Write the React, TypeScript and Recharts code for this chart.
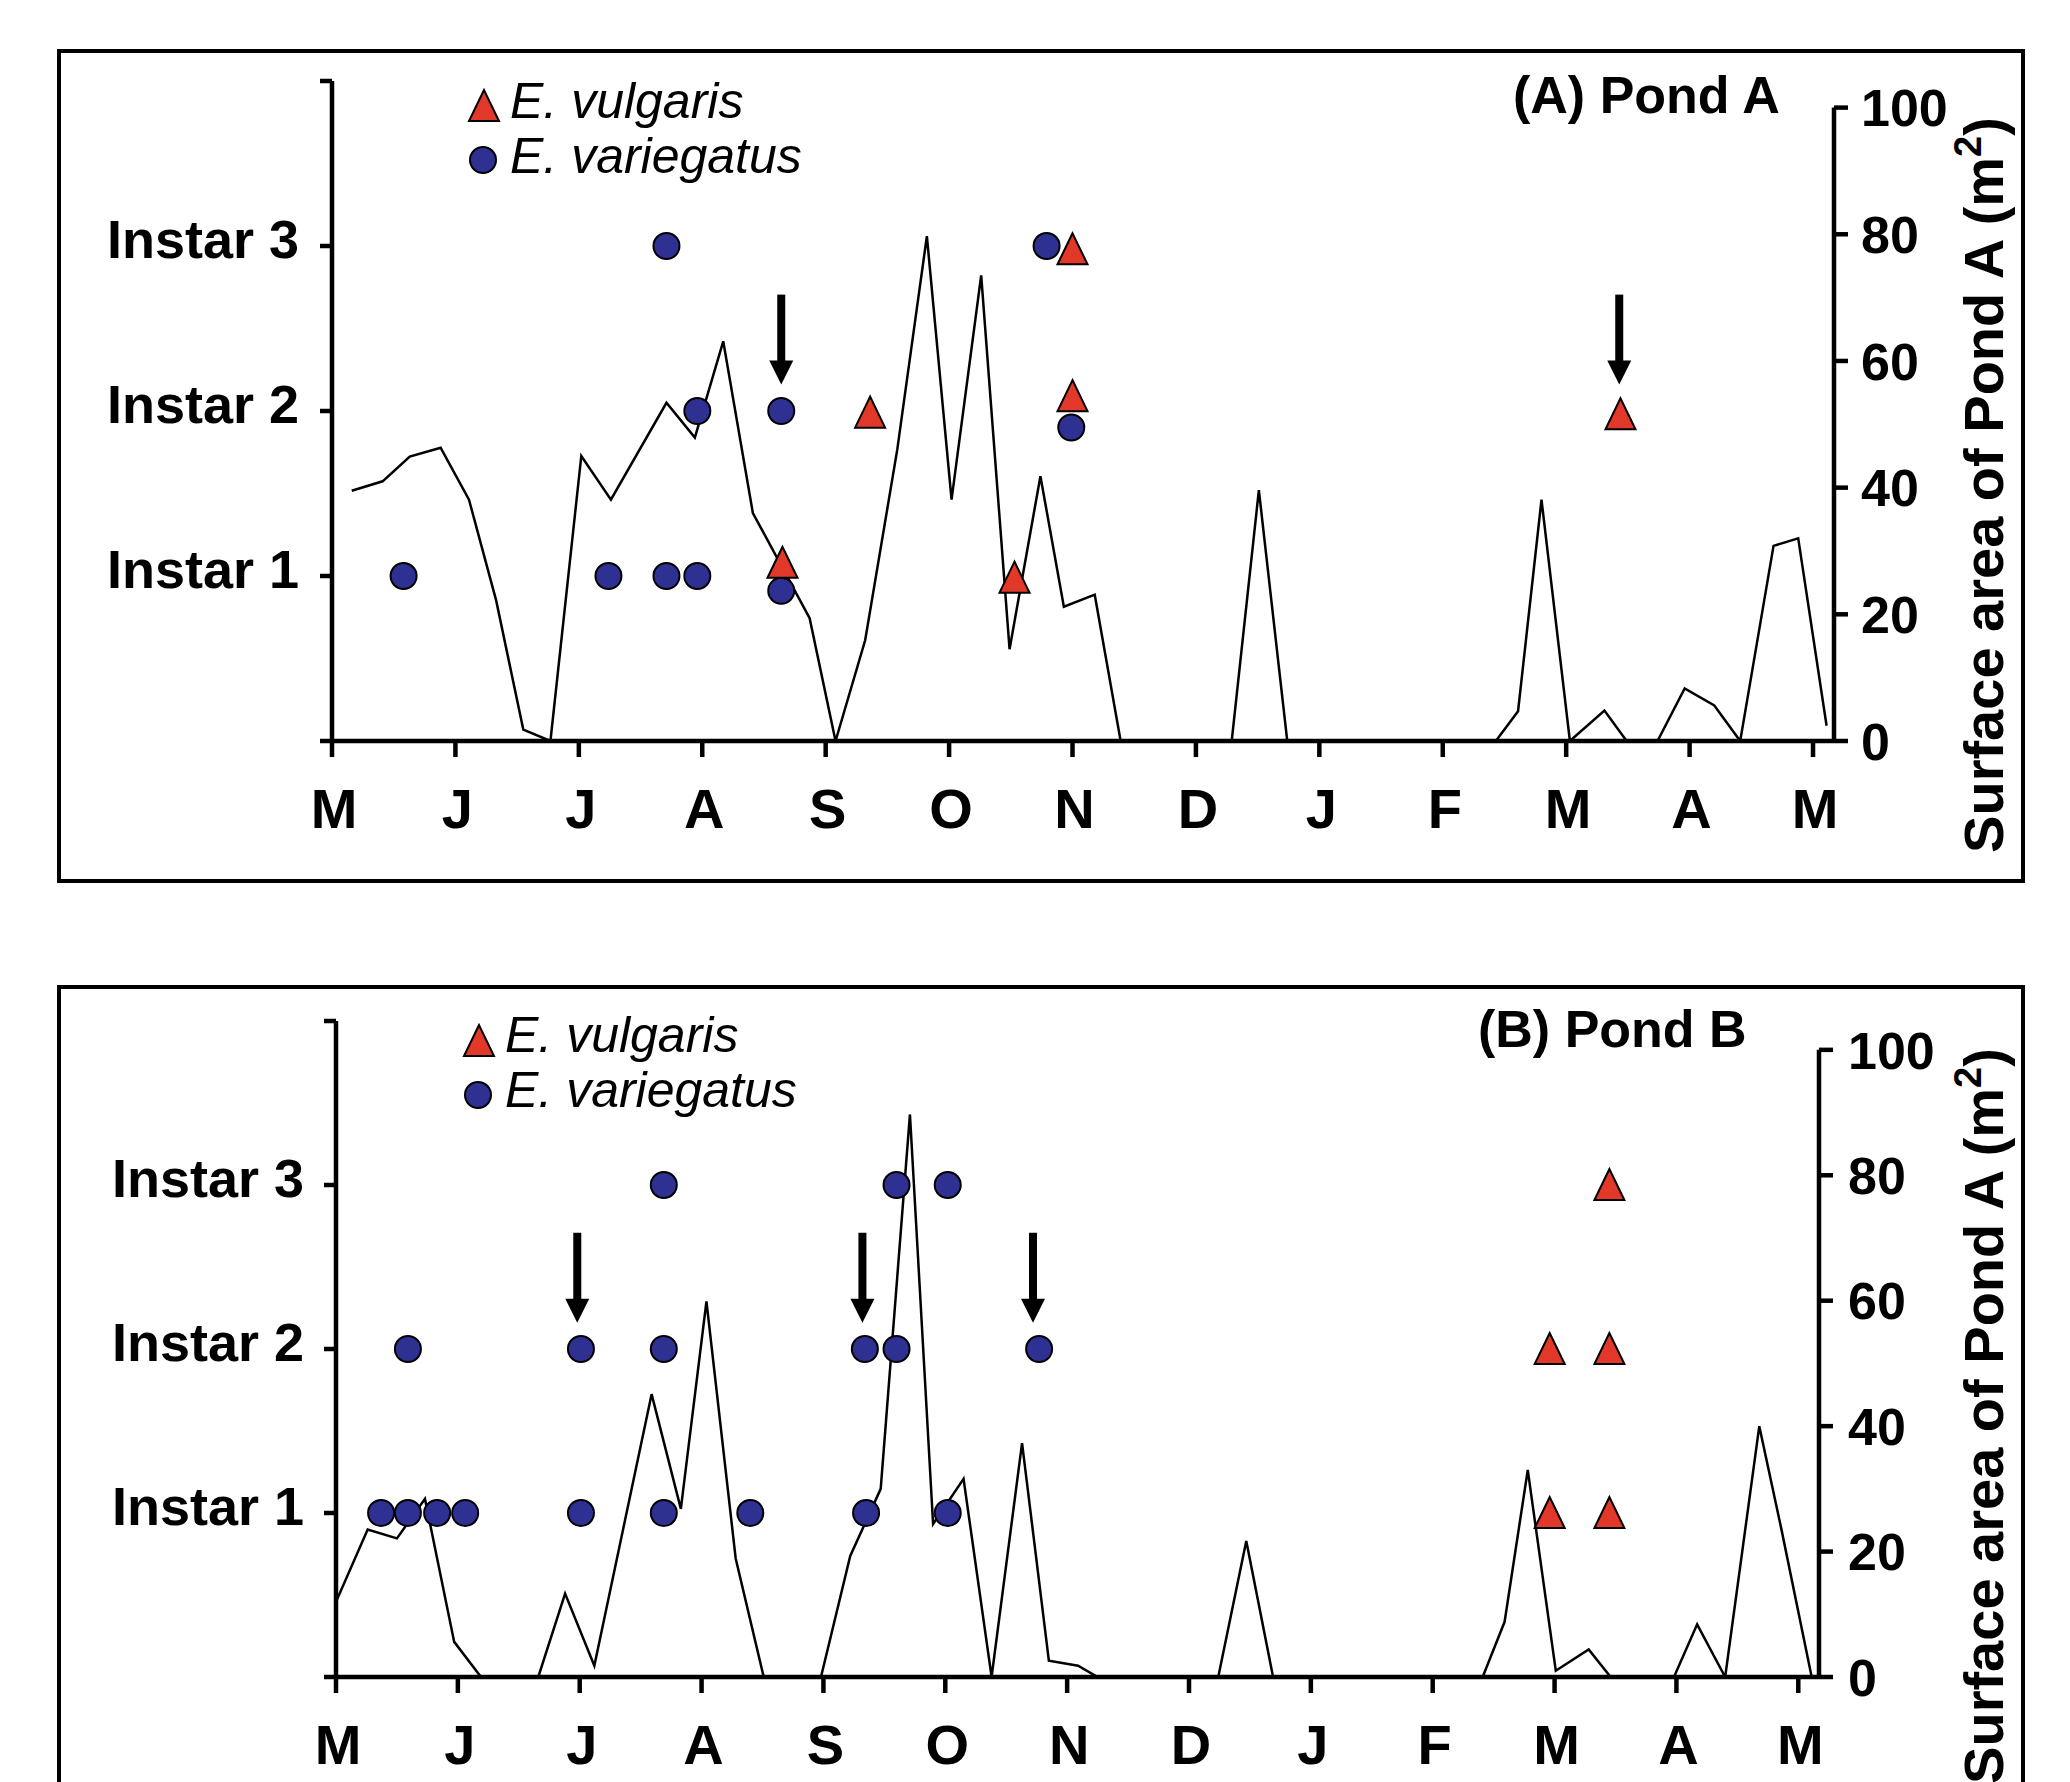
import React from 'react';
import { ComposedChart, Line, Scatter, XAxis, YAxis, ReferenceLine, Legend } from 'recharts';

const FONT = '"Liberation Sans", Arial, Helvetica, sans-serif';
const BLUE = '#2e3192';
const RED = '#e2382a';

// x = months counted from 1 May
const monthTicks = [0, 1, 2, 3, 4, 5, 6, 7, 8, 9, 10, 11, 12];
const monthLabels = ['M', 'J', 'J', 'A', 'S', 'O', 'N', 'D', 'J', 'F', 'M', 'A', 'M'];
const instarTicks = [0, 1, 2, 3, 4];
const instarLabels = ['', 'Instar 1', 'Instar 2', 'Instar 3', ''];
const areaTicks = [0, 20, 40, 60, 80, 100];

// Pond A surface area (m2)
const pondAAreaMonth = [0.16, 0.41, 0.63, 0.88, 1.11, 1.33, 1.55, 1.77, 2.02, 2.26, 2.71, 2.94, 3.17, 3.41, 3.87, 4.08, 4.32, 4.58, 4.82, 5.02, 5.26, 5.49, 5.74, 5.93, 6.18, 6.39, 7.29, 7.51, 7.74, 9.43, 9.61, 9.8, 10.03, 10.31, 10.49, 10.74, 10.96, 11.2, 11.41, 11.68, 11.88, 12.11];
const pondAArea = [39.5, 41, 44.9, 46.3, 38.1, 22.2, 1.8, 0, 45, 38.1, 53.4, 47.9, 63.1, 36, 19.4, 0, 15.9, 46, 79.7, 38.1, 73.5, 14.5, 41.8, 21.2, 23.1, 0, 0, 39.6, 0, 0, 4.7, 38.1, 0, 4.8, 0, 0, 8.3, 5.6, 0, 30.8, 32, 2.4];
const pondAVariegatusMonth = [0.58, 2.24, 2.71, 2.96, 2.71, 2.96, 3.64, 3.64, 5.79, 5.99];
const pondAVariegatusInstar = [1, 1, 1, 1, 3, 2, 2, 0.91, 3, 1.9];
const pondAVulgarisMonth = [3.65, 4.36, 5.53, 6.0, 6.0, 10.44];
const pondAVulgarisInstar = [1.08, 1.99, 0.99, 2.98, 2.09, 1.98];
const pondAArrowMonth = [3.64, 10.43];

// Pond B surface area (m2)
const pondBAreaMonth = [0, 0.26, 0.5, 0.73, 0.97, 1.19, 1.66, 1.88, 2.12, 2.59, 2.83, 3.04, 3.28, 3.51, 3.98, 4.22, 4.47, 4.71, 4.9, 5.15, 5.38, 5.63, 5.85, 6.09, 6.25, 7.24, 7.47, 7.69, 9.41, 9.59, 9.78, 10.01, 10.28, 10.46, 10.98, 11.17, 11.4, 11.68, 11.86, 12.11];
const pondBArea = [12, 23.5, 22.1, 28.4, 5.6, 0, 0, 13.3, 1.8, 45.1, 26.8, 59.9, 18.9, 0, 0, 19.3, 30, 89.7, 24.4, 31.6, 0, 37.3, 2.6, 1.8, 0, 0, 21.7, 0, 0, 8.8, 33, 1, 4.4, 0, 0, 8.4, 0, 40, 23.7, 0];
const pondBVariegatusMonth = [0.37, 0.59, 0.83, 1.06, 2.01, 2.69, 3.4, 4.35, 5.02, 0.59, 2.01, 2.69, 4.34, 4.6, 5.77, 2.69, 4.6, 5.02];
const pondBVariegatusInstar = [1, 1, 1, 1, 1, 1, 1, 1, 1, 2, 2, 2, 2, 2, 2, 3, 3, 3];
const pondBVulgarisMonth = [9.96, 9.96, 10.45, 10.45, 10.45];
const pondBVulgarisInstar = [1, 2, 1, 2, 3];
const pondBArrowMonth = [1.98, 4.32, 5.72];

const ARROW_TIP_INSTAR = 2.16;

type Pt = { m: number; v: number };
const zip = (ms: number[], vs: number[]): Pt[] => ms.map((m, i) => ({ m, v: vs[i] }));

const CHART_W = 2070;
const LEFT_W = 240;
const RIGHT_W = 150;
const XAXIS_H = 100;
const X_MAX = 12.17;

function CircleShape(props: any) {
  const { cx, cy } = props;
  return <circle cx={cx} cy={cy} r={13} fill={BLUE} stroke="#000" strokeWidth={2} />;
}

function TriangleShape(props: any) {
  const { cx, cy } = props;
  return (
    <polygon
      points={`${cx},${cy - 16} ${cx - 15},${cy + 15} ${cx + 15},${cy + 15}`}
      fill={RED}
      stroke="#000"
      strokeWidth={2}
      strokeLinejoin="miter"
    />
  );
}

function ArrowShape(props: any) {
  const { cx, cy } = props;
  return (
    <g>
      <line x1={cx} y1={cy - 90} x2={cx} y2={cy - 20} stroke="#000" strokeWidth={8} />
      <polygon points={`${cx - 12},${cy - 24} ${cx + 12},${cy - 24} ${cx},${cy}`} fill="#000" />
    </g>
  );
}

function MonthTick({ x, y, payload }: any) {
  return (
    <text x={x + 2} y={y + 71} textAnchor="middle" fontFamily={FONT} fontWeight={700} fontSize={56} fill="#000">
      {monthLabels[Math.round(payload.value)]}
    </text>
  );
}

function InstarTick({ x, y, payload }: any) {
  const label = instarLabels[Math.round(payload.value)];
  if (!label) return null;
  return (
    <text x={x} y={y + 12} textAnchor="end" fontFamily={FONT} fontWeight={700} fontSize={54} fill="#000">
      {label}
    </text>
  );
}

function AreaTick({ x, y, payload }: any) {
  return (
    <text x={x} y={y} dy="0.36em" textAnchor="start" fontFamily={FONT} fontWeight={700} fontSize={52} fill="#000">
      {payload.value}
    </text>
  );
}

function AxisTitle({ x0, y0 }: { x0: number; y0: number }) {
  return (
    <text
      transform={`translate(${x0},${y0}) rotate(-90)`}
      textAnchor="middle"
      fontFamily={FONT}
      fontWeight={700}
      fontSize={56}
      fill="#000"
    >
      Surface area of Pond A (m
      <tspan dy={-22} fontSize={38}>2</tspan>
      <tspan dy={22}>)</tspan>
    </text>
  );
}

interface Overlay {
  title: string;
  titleX: number;
  titleY: number;
  triX: number;
  triY: number;
  circX: number;
  circY: number;
  textX: number;
  row1: number;
  row2: number;
}

function LegendOverlay({ o }: { o: Overlay }) {
  return (
    <svg width={CHART_W} height={200} style={{ display: 'block', overflow: 'visible' }}>
      <TriangleShape cx={o.triX} cy={o.triY} />
      <text x={o.textX} y={o.row1} fontFamily={FONT} fontStyle="italic" fontSize={50} fill="#000">
        E. vulgaris
      </text>
      <CircleShape cx={o.circX} cy={o.circY} />
      <text x={o.textX} y={o.row2} fontFamily={FONT} fontStyle="italic" fontSize={50} fill="#000">
        E. variegatus
      </text>
      <text x={o.titleX} y={o.titleY} fontFamily={FONT} fontWeight={700} fontSize={52} fill="#000">
        {o.title}
      </text>
    </svg>
  );
}

interface PondPanelProps {
  top: number;
  height: number;
  plot: { left: number; right: number; top: number; bottom: number };
  rightMax: number;
  leftGap: number;
  rightGap: number;
  axisTitleY: number;
  area: Pt[];
  variegatus: Pt[];
  vulgaris: Pt[];
  arrows: Pt[];
  overlay: Overlay;
}

function PondPanel(p: PondPanelProps) {
  const margin = {
    left: p.plot.left - LEFT_W,
    right: CHART_W - p.plot.right - RIGHT_W,
    top: p.plot.top,
    bottom: p.height - p.plot.bottom - XAXIS_H,
  };
  const axisStroke = { stroke: '#000', strokeWidth: 4.5 };
  return (
    <div style={{ position: 'absolute', left: 0, top: p.top, width: CHART_W, height: p.height }}>
      <ComposedChart width={CHART_W} height={p.height} margin={margin}>
        <XAxis
          type="number"
          dataKey="m"
          domain={[0, X_MAX]}
          ticks={monthTicks}
          interval={0}
          allowDataOverflow
          height={XAXIS_H}
          axisLine={axisStroke}
          tickLine={axisStroke}
          tickSize={16}
          tickMargin={0}
          tick={<MonthTick />}
        />
        <YAxis
          yAxisId="l"
          type="number"
          domain={[0, 4]}
          ticks={instarTicks}
          interval={0}
          width={LEFT_W}
          axisLine={axisStroke}
          tickLine={axisStroke}
          tickSize={12}
          tickMargin={p.leftGap}
          tick={<InstarTick />}
        />
        <YAxis
          yAxisId="r"
          orientation="right"
          type="number"
          domain={[0, p.rightMax]}
          ticks={areaTicks}
          interval={0}
          allowDataOverflow
          width={RIGHT_W}
          axisLine={false}
          tickLine={axisStroke}
          tickSize={14}
          tickMargin={p.rightGap}
          tick={<AreaTick />}
          label={<AxisTitle x0={2003} y0={p.axisTitleY} />}
        />
        <ReferenceLine
          yAxisId="r"
          segment={[{ x: X_MAX, y: 0 }, { x: X_MAX, y: 100 }]}
          stroke="#000"
          strokeWidth={4.5}
          ifOverflow="visible"
        />
        <Line
          yAxisId="r"
          data={p.area}
          dataKey="v"
          type="linear"
          stroke="#000"
          strokeWidth={2.5}
          dot={false}
          isAnimationActive={false}
        />
        <Scatter yAxisId="l" data={p.arrows} dataKey="v" shape={<ArrowShape />} isAnimationActive={false} />
        <Scatter yAxisId="l" data={p.variegatus} dataKey="v" shape={<CircleShape />} isAnimationActive={false} />
        <Scatter yAxisId="l" data={p.vulgaris} dataKey="v" shape={<TriangleShape />} isAnimationActive={false} />
        <Legend
          layout="vertical"
          align="center"
          verticalAlign="middle"
          content={<LegendOverlay o={p.overlay} />}
          wrapperStyle={{ position: 'absolute', left: 0, top: 0, width: CHART_W, height: 200, pointerEvents: 'none' }}
        />
      </ComposedChart>
    </div>
  );
}

const boxStyle: React.CSSProperties = {
  position: 'absolute',
  boxSizing: 'border-box',
  border: '4px solid #000',
  left: 57,
  width: 1968,
};

export default function App() {
  const arrowsA = pondAArrowMonth.map((m) => ({ m, v: ARROW_TIP_INSTAR }));
  const arrowsB = pondBArrowMonth.map((m) => ({ m, v: ARROW_TIP_INSTAR }));
  return (
    <div
      style={{
        position: 'absolute',
        left: 0,
        top: 0,
        width: 2070,
        height: 1782,
        overflow: 'hidden',
        background: '#fff',
      }}
    >
      <div style={{ ...boxStyle, top: 49, height: 834 }} />
      <div style={{ ...boxStyle, top: 985, height: 900 }} />
      <PondPanel
        top={0}
        height={900}
        plot={{ left: 332, right: 1834, top: 81, bottom: 741 }}
        rightMax={104.2}
        leftGap={21}
        rightGap={13}
        axisTitleY={485}
        area={zip(pondAAreaMonth, pondAArea)}
        variegatus={zip(pondAVariegatusMonth, pondAVariegatusInstar)}
        vulgaris={zip(pondAVulgarisMonth, pondAVulgarisInstar)}
        arrows={arrowsA}
        overlay={{
          title: '(A) Pond A',
          titleX: 1513,
          titleY: 113,
          triX: 484,
          triY: 106,
          circX: 483,
          circY: 160,
          textX: 510,
          row1: 118,
          row2: 173,
        }}
      />
      <PondPanel
        top={940}
        height={842}
        plot={{ left: 336, right: 1819, top: 81, bottom: 737 }}
        rightMax={104.6}
        leftGap={20}
        rightGap={15}
        axisTitleY={476}
        area={zip(pondBAreaMonth, pondBArea)}
        variegatus={zip(pondBVariegatusMonth, pondBVariegatusInstar)}
        vulgaris={zip(pondBVulgarisMonth, pondBVulgarisInstar)}
        arrows={arrowsB}
        overlay={{
          title: '(B) Pond B',
          titleX: 1478,
          titleY: 107,
          triX: 479,
          triY: 101,
          circX: 478,
          circY: 155,
          textX: 505,
          row1: 112,
          row2: 167,
        }}
      />
    </div>
  );
}
